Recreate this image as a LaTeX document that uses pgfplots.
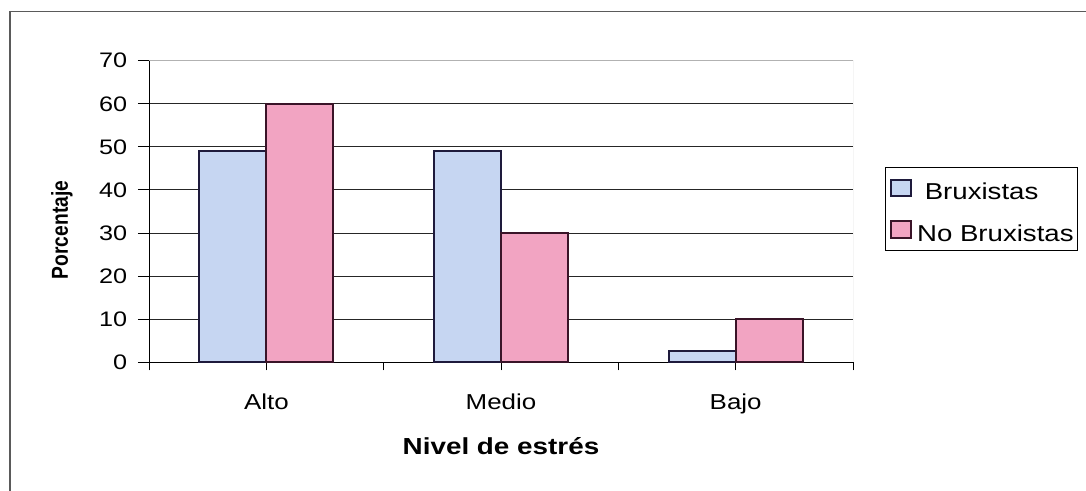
\documentclass[border=0pt]{standalone}
\usepackage{pgfplots}
\pgfplotsset{compat=1.18}
\usepackage{fontspec}
\setmainfont[FakeStretch=1.2]{Liberation Sans}
\newfontfamily\plainsans{Liberation Sans}

\definecolor{bruxfill}{HTML}{C6D6F2}
\definecolor{bruxedge}{HTML}{1E1A3C}
\definecolor{nobruxfill}{HTML}{F2A4C2}
\definecolor{nobruxedge}{HTML}{3A1428}
\definecolor{framegray}{HTML}{5A5A5A}

\pgfplotsset{
  sqlegend/.style={legend image code/.code={
    \draw[##1, line width=1pt] (0pt,-4.2pt) rectangle (10.3pt,4.2pt);}},
}

\begin{document}
\begin{tikzpicture}
\useasboundingbox (0,0) rectangle (543pt,-245.5pt);
% chart area frame
\draw[framegray, line width=0.6pt] (5pt,-245.5pt) -- (5pt,-5.75pt) -- (543pt,-5.75pt);
\begin{axis}[
  at={(74.5pt,-181.15pt)}, anchor=south west,
  scale only axis, width=352pt, height=150.8pt,
  ybar=0pt, bar width=33.5pt,
  xmin=-0.5, xmax=2.5, ymin=0, ymax=70,
  axis x line*=bottom, axis y line*=left,
  axis line style={black, line width=0.5pt, -},
  tick align=outside,
  xtick={-0.5,0.5,1.5,2.5}, xticklabels={},
  xtick style={black, line width=0.5pt, /pgfplots/major tick length=4pt},
  extra x ticks={0,1,2},
  extra x tick labels={Alto,Medio,Bajo},
  extra x tick style={/pgfplots/major tick length=0pt,
    xticklabel style={anchor=base, yshift=-23.5pt, inner sep=0pt,
      font=\fontsize{10.8}{12}\selectfont}},
  ytick={0,10,...,60},
  extra y ticks={70},
  extra y tick style={grid=none},
  ytick style={black, line width=0.5pt, /pgfplots/major tick length=5.5pt},
  ymajorgrids,
  grid style={black!85, line width=0.5pt},
  /pgf/number format/assume math mode=true,
  yticklabel style={font=\fontsize{10.5}{12}\selectfont, inner sep=0pt,
    anchor=east, xshift=-6.5pt},
  xlabel={Nivel de estrés},
  xlabel style={at={(axis description cs:0.5,-0.305)}, anchor=base,
    font=\bfseries\fontsize{11.6}{13}\selectfont},
  ylabel={Porcentaje},
  ylabel style={at={(axis description cs:-0.1151,0.4387)}, anchor=base,
    inner sep=0pt, yscale=1.2, transform shape,
    font=\plainsans\bfseries\fontsize{9.6}{11}\selectfont},
  legend cell align=left,
  legend style={at={(axis description cs:1.0451,0.6475)}, anchor=north west,
    draw=black, line width=0.5pt, inner xsep=2.15pt, inner ysep=4pt,
    row sep=8.3pt, font=\fontsize{11.5}{14}\selectfont,
    nodes={inner sep=0pt, text height=12pt, text depth=0.5pt},
    /tikz/every odd column/.append style={column sep=2.5pt}},
]
\addplot[fill=bruxfill, draw=bruxedge, line width=1.1pt, sqlegend]
  coordinates {(0,49) (1,49) (2,2.6)};
\addlegendentry{\ Bruxistas}
\addplot[fill=nobruxfill, draw=nobruxedge, line width=1.1pt, sqlegend]
  coordinates {(0,60) (1,30) (2,10)};
\addlegendentry{No Bruxistas}
% light border on the top and right of the plot area
\draw[black!30, line width=0.5pt] (rel axis cs:0,1) -- (rel axis cs:1,1) -- (rel axis cs:1,0);
\end{axis}
\end{tikzpicture}
\end{document}
